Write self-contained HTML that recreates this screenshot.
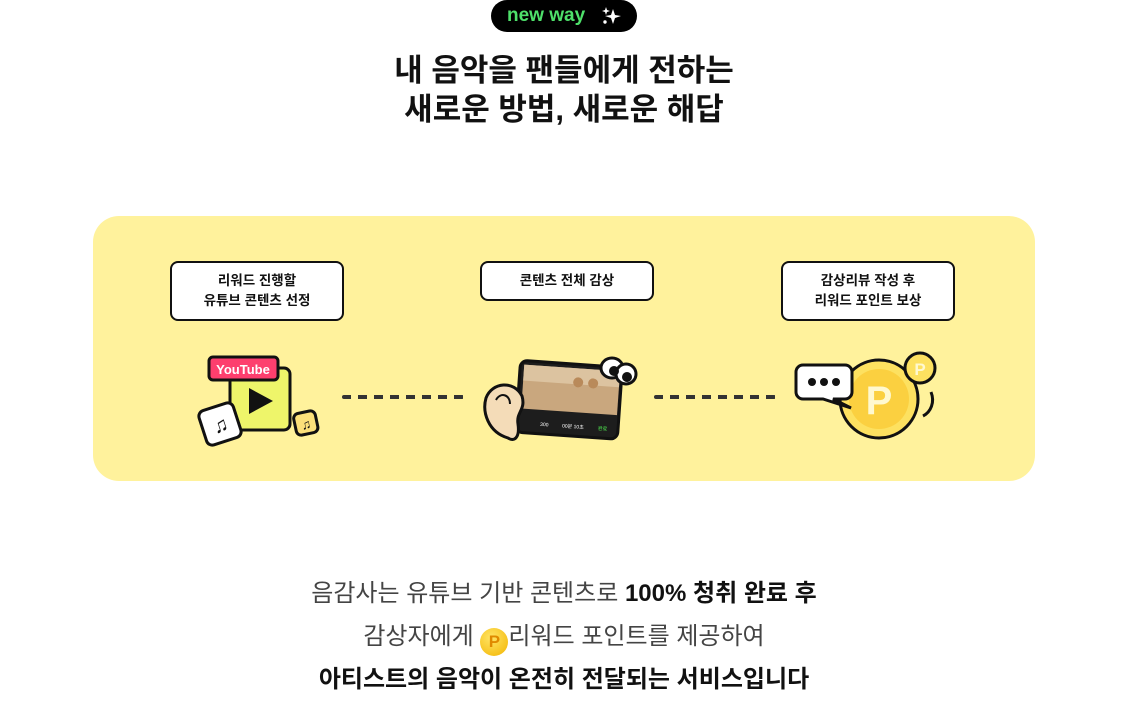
<!DOCTYPE html>
<html><head><meta charset="utf-8"><style>
body{margin:0;width:1128px;height:711px;background:#fff;position:relative;overflow:hidden;font-family:"Liberation Sans","Noto Sans CJK KR",sans-serif;}
.a{position:absolute}
.pill{left:491px;top:0;width:146px;height:32px;background:#000;border-radius:16px;color:#4ee06a;font-weight:bold;font-size:19px;line-height:32px;}
.title{left:0;width:1128px;top:51px;text-align:center;font-size:31px;font-weight:bold;line-height:39px;color:#111;}
.panel{left:93px;top:216px;width:942px;height:265px;background:#fff29c;border-radius:26px;}
.box{background:#fff;border:2px solid #111;border-radius:8px;text-align:center;font-size:13.5px;font-weight:bold;line-height:20px;color:#111;box-sizing:border-box;display:flex;align-items:center;justify-content:center;}
.dash{height:4px;background-image:repeating-linear-gradient(90deg,#333 0 9px,transparent 9px 16px);border-radius:2px}
.t{left:0;width:1128px;text-align:center;font-size:24px;color:#444;}
b{color:#111}
</style></head><body>
<div class="a pill"><span style="position:absolute;left:16px">new way</span>
<svg class="a" style="left:110px;top:6px" width="22" height="20" viewBox="0 0 22 20"><path d="M12 3 L14 9 L20 10 L14 12 L12 18 L10 12 L4 10 L10 9Z" fill="#fff"/><path d="M5 1 L6 4 L9 5 L6 6 L5 9 L4 6 L1 5 L4 4Z" fill="#fff"/><circle cx="4" cy="16" r="1.7" fill="#fff"/></svg></div>
<div class="a title">내 음악을 팬들에게 전하는<br>새로운 방법, 새로운 해답</div>
<div class="a panel"></div>
<div class="a box" style="left:170px;top:261px;width:174px;height:60px">리워드 진행할<br>유튜브 콘텐츠 선정</div>
<div class="a box" style="left:480px;top:261px;width:174px;height:40px">콘텐츠 전체 감상</div>
<div class="a box" style="left:781px;top:261px;width:174px;height:60px">감상리뷰 작성 후<br>리워드 포인트 보상</div>
<div class="a dash" style="left:342px;top:395px;width:122px"></div>
<div class="a dash" style="left:654px;top:395px;width:122px"></div>
<svg class="a" style="left:192px;top:352px" width="132" height="98" viewBox="0 0 132 98">
<rect x="38" y="16" width="60" height="62" rx="6" fill="#eef56a" stroke="#111" stroke-width="3"/>
<path d="M57 36 L57 62 L81 49Z" fill="#111"/>
<rect x="17" y="5" width="69" height="23" rx="4" fill="#fd3f6e" stroke="#111" stroke-width="3"/>
<text x="51" y="22" text-anchor="middle" font-size="13" font-weight="bold" fill="#fff" font-family="Liberation Sans">YouTube</text>
<g transform="rotate(-18 28 72)"><rect x="10" y="54" width="36" height="36" rx="6" fill="#fff" stroke="#111" stroke-width="3"/><text x="28" y="80" text-anchor="middle" font-size="20" font-weight="bold" fill="#111">♫</text></g>
<g transform="rotate(-12 114 72)"><rect x="103" y="60" width="22" height="22" rx="5" fill="#fbe07a" stroke="#111" stroke-width="3"/><text x="114" y="77" text-anchor="middle" font-size="13" fill="#111">♫</text></g>
</svg>
<svg class="a" style="left:482px;top:354px" width="158" height="88" viewBox="0 0 158 88">
<g transform="rotate(4 90 45)"><rect x="36" y="10" width="102" height="72" rx="7" fill="#1d1d1d" stroke="#111" stroke-width="3"/>
<rect x="40" y="14" width="96" height="44" fill="#c9a77e"/><rect x="40" y="14" width="96" height="16" fill="#dcc3a0"/>
<circle cx="95" cy="28" r="5" fill="#b98a5a"/><circle cx="110" cy="28" r="5" fill="#b98a5a"/>
<text x="60" y="74" font-size="5" fill="#fff">300</text><text x="82" y="74" font-size="5" fill="#fff">00분 10초</text><text x="118" y="74" font-size="5" fill="#5f5">완료</text></g>
<path d="M26 84 C6 78 0 58 4 44 C10 28 32 26 40 42 C44 56 34 58 36 70 C38 84 32 88 26 84Z" fill="#f4dcb8" stroke="#111" stroke-width="3"/>
<path d="M14 46 C18 38 28 40 28 50" fill="none" stroke="#111" stroke-width="2"/>
<ellipse cx="130" cy="14" rx="11" ry="10" fill="#fff" stroke="#111" stroke-width="3"/><ellipse cx="144" cy="20" rx="10" ry="10" fill="#fff" stroke="#111" stroke-width="3"/>
<circle cx="132" cy="17" r="5" fill="#111"/><circle cx="145" cy="23" r="5" fill="#111"/>
</svg>
<svg class="a" style="left:793px;top:350px" width="150" height="92" viewBox="0 0 150 92">
<circle cx="86" cy="49" r="39" fill="#fde160" stroke="#111" stroke-width="3"/>
<circle cx="86" cy="49" r="30" fill="#fbd040"/>
<text x="86" y="64" text-anchor="middle" font-size="40" font-weight="bold" fill="#fff9d0">P</text>
<circle cx="127" cy="18" r="15" fill="#fde160" stroke="#111" stroke-width="3"/>
<text x="127" y="25" text-anchor="middle" font-size="17" font-weight="bold" fill="#fff9d0">P</text>
<path d="M138 42 C142 52 138 62 130 66" fill="none" stroke="#111" stroke-width="3"/>
<path d="M10 15 H52 a7 7 0 0 1 7 7 V42 a7 7 0 0 1 -7 7 H40 L58 58 L30 49 H10 a7 7 0 0 1 -7 -7 V22 a7 7 0 0 1 7 -7Z" fill="#fff" stroke="#111" stroke-width="3"/>
<circle cx="19" cy="32" r="4" fill="#111"/><circle cx="31" cy="32" r="4" fill="#111"/><circle cx="43" cy="32" r="4" fill="#111"/>
</svg>
<div class="a t" style="top:577px;line-height:34px">음감사는 유튜브 기반 콘텐츠로 <b>100% 청취 완료 후</b></div>
<div class="a t" style="top:620px;line-height:34px">감상자에게 <span style="display:inline-block;width:28px;height:28px;border-radius:50%;background:radial-gradient(circle at 40% 35%,#ffe566,#f3b400);vertical-align:-3px;color:#e08a00;font-size:17px;font-weight:bold;line-height:28px">P</span>리워드 포인트를 제공하여</div>
<div class="a t" style="top:663px;line-height:34px;font-weight:bold;color:#111">아티스트의 음악이 온전히 전달되는 서비스입니다</div>
</body></html>
